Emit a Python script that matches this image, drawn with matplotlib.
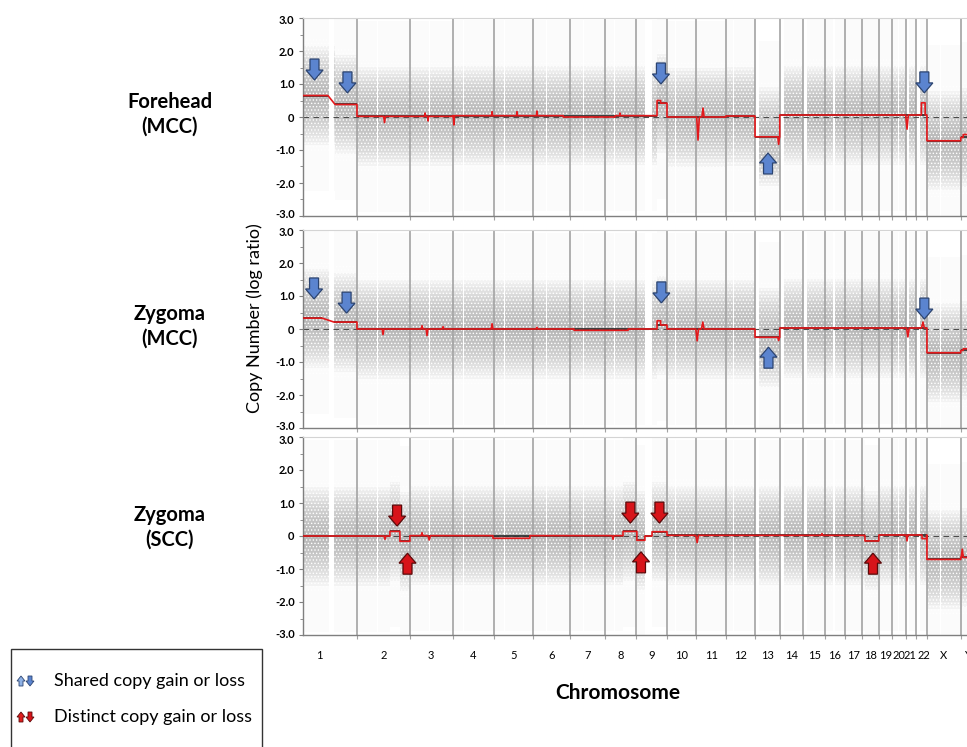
import matplotlib
matplotlib.use("Agg")
import matplotlib.pyplot as plt
import matplotlib.transforms as mtransforms
from matplotlib.patches import Polygon, Rectangle
import numpy as np

plt.rcParams['font.family'] = ['Lato', 'DejaVu Sans']
plt.rcParams['hatch.linewidth'] = 0.6

# chromosome layout (Mb)
chroms = ['1', '2', '3', '4', '5', '6', '7', '8', '9', '10', '11', '12', '13',
          '14', '15', '16', '17', '18', '19', '20', '21', '22', 'X', 'Y']
chrom_len = [249, 243, 198, 191, 181, 171, 159, 146, 141, 136, 135, 134, 115,
             107, 103, 90, 81, 78, 59, 63, 48, 51, 155, 59]
chrom_start = np.concatenate([[0], np.cumsum(chrom_len)[:-1]])
genome_len = sum(chrom_len)

# regions without probes (chromosome, from Mb, to Mb)
gap_chrom = ['1', '9', '16', '13', '14', '15', '21', '22', '2', '3', '4', '5',
             '6', '7', '8', '10', '11', '12', '17', '18', '19', '20', 'X', 'Y']
gap_from = [121, 40, 36, 0, 0, 0, 0, 0, 92, 90, 49, 47, 59, 58, 44, 39, 52, 34,
            24, 16, 25, 27, 59, 28]
gap_to = [143, 70, 46, 19, 19, 20, 13, 16, 95, 93, 52, 50, 62, 61, 47, 42, 55,
          37, 26, 19, 28, 30, 62, 59]

panel_names = ['Forehead\n(MCC)', 'Zygoma\n(MCC)', 'Zygoma\n(SCC)']

# segment means (genome Mb start, end, log ratio)
p1_seg_start = [0, 148, 249, 690, 1633, 1679, 1950, 2085, 2199, 2878, 3034]
p1_seg_end = [115, 249, 690, 1633, 1679, 1950, 2085, 2199, 2878, 3034, 3093]
p1_seg_val = [0.65, 0.38, 0.02, 0.04, 0.42, 0.0, 0.03, -0.6, 0.06, -0.72, -0.62]

p2_seg_start = [0, 143, 249, 1633, 1679, 2085, 2199, 2878, 3034]
p2_seg_end = [88, 249, 1633, 1679, 2085, 2199, 2878, 3034, 3093]
p2_seg_val = [0.33, 0.21, 0.0, 0.12, 0.0, -0.25, 0.03, -0.72, -0.65]

p3_seg_start = [0, 401, 447, 493, 1476, 1540, 1577, 1610, 1679, 2592, 2656, 2878, 3034]
p3_seg_end = [401, 447, 493, 1476, 1540, 1577, 1610, 1679, 2592, 2656, 2878, 3034, 3093]
p3_seg_val = [0.0, 0.14, -0.16, 0.01, 0.14, -0.13, 0.0, 0.13, 0.02, -0.15, 0.03, -0.71, -0.65]

# local deviations of the smoothed (red) trace: start, end, value
p1_ev_start = [372, 561, 575, 693, 870, 985, 1077, 1200, 1460, 1633, 1816, 1840, 2190, 2780, 2852, 3045]
p1_ev_end = [380, 565, 579, 699, 874, 989, 1081, 1440, 1464, 1650, 1828, 1850, 2198, 2792, 2870, 3093]
p1_ev_val = [-0.17, 0.12, -0.12, -0.24, 0.16, 0.16, 0.18, 0.0, 0.12, 0.5, -0.7, 0.27, -0.83, -0.37, 0.43, -0.53]

p2_ev_start = [365, 545, 568, 642, 868, 1075, 1250, 1633, 1812, 1838, 2190, 2784, 2853, 3045]
p2_ev_end = [373, 553, 576, 650, 876, 1083, 1500, 1650, 1824, 1850, 2198, 2796, 2866, 3093]
p2_ev_val = [-0.17, 0.1, -0.2, 0.07, 0.16, 0.05, -0.04, 0.25, -0.36, 0.21, -0.35, -0.24, 0.21, -0.6]

p3_ev_start = [374, 545, 576, 876, 1426, 1812, 2390, 2782, 2855, 3036]
p3_ev_end = [382, 553, 588, 1047, 1434, 1824, 2398, 2790, 2876, 3046]
p3_ev_val = [-0.1, 0.1, -0.12, -0.07, -0.1, -0.2, 0.07, -0.15, -0.08, -0.4]

# arrows: genome Mb, tip value, direction, colour group
p1_arr_x = [53, 205, 1651, 2145, 2866]
p1_arr_tip = [1.12, 0.73, 1.0, -1.09, 0.73]
p1_arr_dir = ['down', 'down', 'down', 'up', 'down']
p1_arr_kind = ['shared'] * 5

p2_arr_x = [51, 201, 1653, 2147, 2866]
p2_arr_tip = [0.91, 0.48, 0.79, -0.55, 0.30]
p2_arr_dir = ['down', 'down', 'down', 'up', 'down']
p2_arr_kind = ['shared'] * 5

p3_arr_x = [434, 482, 1510, 1559, 1644, 2629]
p3_arr_tip = [0.30, -0.52, 0.39, -0.48, 0.39, -0.52]
p3_arr_dir = ['down', 'up', 'down', 'up', 'down', 'up']
p3_arr_kind = ['distinct'] * 6

yticks = [-3, -2, -1, 0, 1, 2, 3]
ytick_labels = ['-3.0', '-2.0', '-1.0', '0', '1.0', '2.0', '3.0']

panels = [
    (p1_seg_start, p1_seg_end, p1_seg_val, p1_ev_start, p1_ev_end, p1_ev_val,
     p1_arr_x, p1_arr_tip, p1_arr_dir, p1_arr_kind),
    (p2_seg_start, p2_seg_end, p2_seg_val, p2_ev_start, p2_ev_end, p2_ev_val,
     p2_arr_x, p2_arr_tip, p2_arr_dir, p2_arr_kind),
    (p3_seg_start, p3_seg_end, p3_seg_val, p3_ev_start, p3_ev_end, p3_ev_val,
     p3_arr_x, p3_arr_tip, p3_arr_dir, p3_arr_kind),
]

arrow_face = {'shared': '#5b84cf', 'distinct': '#d7141a'}
arrow_edge = {'shared': '#2c4470', 'distinct': '#5a0a0a'}

W, H = 967, 747
fig = plt.figure(figsize=(W / 100, H / 100), dpi=100)

px_per_mb = 0.2168
ax_left = 303 / W
ax_w = genome_len * px_per_mb / W
panel_top = [18, 230, 437]
panel_bot = [216, 428, 635]
label_y = [114, 326, 527]


def arrow_verts(direction, L, hl, hw, sw):
    v = [(0, 0), (hw, hl), (sw, hl), (sw, L), (-sw, L), (-sw, hl), (-hw, hl)]
    s = 1 if direction == 'down' else -1
    return [(x / 100, s * y / 100) for x, y in v]


def red_trace(seg_s, seg_e, seg_v, ev_s, ev_e, ev_v):
    pts = []
    for s, e, v in zip(seg_s, seg_e, seg_v):
        pts.append((s, v))
        pts.append((e, v))
    for s, e, v in zip(ev_s, ev_e, ev_v):
        mid = (s + e) / 2
        lev = [sv for ss, se, sv in zip(seg_s, seg_e, seg_v) if ss <= mid <= se][0]
        if e - s <= 15:
            pts += [(s, lev), (mid, v), (e, lev)]
        else:
            pts += [(s, lev), (s + 0.5, v), (e - 0.5, v), (e, lev)]
    pts.sort(key=lambda p: p[0])
    return [p[0] for p in pts], [p[1] for p in pts]


axes = []
for i, (seg_s, seg_e, seg_v, ev_s, ev_e, ev_v, ax_x, ax_tip, ax_dir, ax_kind) in enumerate(panels):
    ax = fig.add_axes([ax_left, 1 - panel_bot[i] / H, ax_w,
                       (panel_bot[i] - panel_top[i]) / H])
    axes.append(ax)
    ax.set_xlim(0, genome_len)
    ax.set_ylim(-3, 3)

    # probe cloud: soft density bands around the segment means, speckled
    nxt = list(seg_s[1:]) + [genome_len]
    layers = [(2.9, 0.035)] + [(h, 0.075) for h in np.linspace(0.12, 1.5, 14)]
    for half, a in layers:
        for s, e, v in zip(seg_s, nxt, seg_v):
            ax.fill_between([s, e], v - half, v + half, color='#9c9c9c',
                            alpha=a, lw=0, zorder=1)
    for s, e, v in zip(seg_s, nxt, seg_v):
        ax.fill_between([s, e], v - 1.7, v + 1.7, facecolor='none',
                        edgecolor='white', hatch='.....', lw=0, zorder=1.2)
    for c, g0, g1 in zip(gap_chrom, gap_from, gap_to):
        st = chrom_start[chroms.index(c)]
        ax.axvspan(st + g0, st + g1, color='white', lw=0, zorder=1.5)

    for b in chrom_start[1:]:
        ax.axvline(b, color='#a3a3a3', lw=1.2, zorder=2)
    ax.axhline(0, color='#4d4d4d', lw=0.8, ls=(0, (5, 4)), zorder=2.5)

    ax.hlines(seg_v, seg_s, seg_e, color='#333333', lw=1.3, zorder=3)
    rx, ry = red_trace(seg_s, seg_e, seg_v, ev_s, ev_e, ev_v)
    ax.plot(rx, ry, color='#e3191c', lw=1.2, zorder=4)

    for x, tip, d, k in zip(ax_x, ax_tip, ax_dir, ax_kind):
        trans = fig.dpi_scale_trans + mtransforms.ScaledTranslation(x, tip, ax.transData)
        ax.add_patch(Polygon(arrow_verts(d, 21, 10, 8.5, 4.5), closed=True,
                             transform=trans, facecolor=arrow_face[k],
                             edgecolor=arrow_edge[k], lw=0.9, zorder=5,
                             clip_on=False))

    ax.set_yticks(yticks)
    ax.set_yticklabels(ytick_labels)
    ax.set_yticks(np.arange(-2.5, 3, 1.0), minor=True)
    ax.tick_params(axis='y', which='major', length=3, width=0.8, color='#7f7f7f',
                   labelsize=8, pad=3)
    ax.tick_params(axis='y', which='minor', length=2, width=0.6, color='#7f7f7f')
    labs = ax.get_yticklabels()
    for lab in labs:
        lab.set_fontweight('bold')
    # nudge the end labels apart where panels meet
    labs[0].set_transform(labs[0].get_transform() +
                          mtransforms.ScaledTranslation(0, 2 / 100, fig.dpi_scale_trans))
    labs[-1].set_transform(labs[-1].get_transform() +
                           mtransforms.ScaledTranslation(0, -2 / 100, fig.dpi_scale_trans))
    ax.set_xticks(chrom_start[1:])
    ax.tick_params(axis='x', which='major', length=3, width=0.8, color='#a3a3a3',
                   labelbottom=False)
    for side in ['left', 'bottom']:
        ax.spines[side].set_color('#7f7f7f')
        ax.spines[side].set_linewidth(1.0)
    ax.spines['top'].set_color('#d4d4d4')
    ax.spines['right'].set_visible(False)

    fig.text(170 / W, 1 - label_y[i] / H, panel_names[i], ha='center', va='center',
             fontsize=14.5, fontweight='bold', linespacing=1.3)

# chromosome names under the bottom panel
label_pos = [c + l / 2 for c, l in zip(chrom_start, chrom_len)]
label_pos[0] = 76
label_pos[20] -= 5
label_pos[21] += 10
axes[2].set_xticks(label_pos, minor=True)
axes[2].set_xticklabels(chroms, minor=True)
axes[2].tick_params(axis='x', which='minor', length=0, labelsize=8, pad=11,
                    labelbottom=True)

fig.text(255 / W, 1 - 318 / H, 'Copy Number (log ratio)', rotation=90,
         ha='center', va='center', fontsize=13)
fig.text(618 / W, 1 - 693 / H, 'Chromosome', ha='center', va='center',
         fontsize=15, fontweight='bold')

# legend box
fig.patches.append(Rectangle((11 / W, -0.02), (262 - 11) / W, (0.02 + 1 - 649 / H),
                             transform=fig.transFigure, fill=False,
                             edgecolor='#333333', lw=1.0))
leg_items = [('shared', 681, 'Shared copy gain or loss'),
             ('distinct', 717, 'Distinct copy gain or loss')]
leg_up = {'shared': '#8fb2e6', 'distinct': '#e01e1e'}
for kind, yy, txt in leg_items:
    for xx, d, fc in [(21, 'up', leg_up[kind]), (30, 'down', arrow_face[kind])]:
        tip_y = yy - 5 if d == 'up' else yy + 5
        trans = fig.dpi_scale_trans + mtransforms.ScaledTranslation(
            xx / W, 1 - tip_y / H, fig.transFigure)
        fig.patches.append(Polygon(arrow_verts(d, 10, 5, 4, 2), closed=True,
                                   transform=trans, facecolor=fc,
                                   edgecolor=arrow_edge[kind], lw=0.6))
    fig.text(54 / W, 1 - yy / H, txt, ha='left', va='center', fontsize=13)

fig.savefig('out.png', dpi=100)
